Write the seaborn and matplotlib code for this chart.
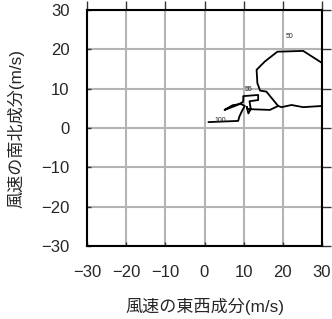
import matplotlib
matplotlib.use("Agg")
import matplotlib.pyplot as plt
import seaborn as sns
import pandas as pd

# hodograph path (east-west u, north-south v) in m/s
u = [1.0, 8.6, 8.9, 9.7, 10.3, 9.3, 7.2, 5.1, 7.8, 9.8, 9.9, 9.9, 13.7, 13.7,
     11.5, 11.8, 11.2, 10.8, 11.0, 12.5, 16.7, 18.8, 15.8, 14.2, 13.5, 13.3,
     15.4, 18.6, 25.2, 29.9, 33.0, 32.0, 30.0, 25.2, 22.2, 19.7, 18.8]
v = [1.5, 1.8, 2.9, 4.6, 5.6, 6.1, 5.8, 4.6, 5.6, 6.6, 7.1, 8.1, 8.4, 7.1,
     6.8, 4.8, 3.7, 5.4, 4.8, 4.75, 4.6, 5.6, 9.25, 9.5, 11.4, 14.8,
     16.9, 19.4, 19.6, 16.6, 12.0, 6.5, 5.6, 5.3, 5.85, 5.3, 5.6]
label_text = ["100", "55", "50"]
label_u = [4.0, 11.2, 21.6]
label_v = [2.0, 9.7, 23.2]
ticks = [-30, -20, -10, 0, 10, 20, 30]
tick_labels = ["\u221230", "\u221220", "\u221210", "0", "10", "20", "30"]

sns.set_style("white")
plt.rcParams['font.family'] = ['Liberation Sans', 'Noto Sans CJK JP', 'DejaVu Sans']

fig = plt.figure(figsize=(3.32, 3.19), dpi=100)
ax = fig.add_axes([87/332, 1 - 246/319, 235/332, 236/319])

df = pd.DataFrame({"u": u, "v": v})
sns.lineplot(data=df, x="u", y="v", sort=False, estimator=None, color="black",
             linewidth=1.3, ax=ax, zorder=3)
for t, x, y in zip(label_text, label_u, label_v):
    ax.text(x, y, t, fontsize=5, ha="center", va="center", zorder=4)

ax.set_xlim(-30, 30)
ax.set_ylim(-30, 30)
ax.set_xticks(ticks)
ax.set_yticks(ticks)
ax.set_xticks(ticks, minor=True)
ax.set_yticks(ticks, minor=True)
ax.xaxis.remove_overlapping_locs = False
ax.yaxis.remove_overlapping_locs = False
ax.set_xticklabels(tick_labels, fontsize=12)
ax.set_yticklabels(tick_labels, fontsize=12)
ax.grid(True, which="major", color="#b4b4b4", linewidth=1.5)
ax.set_axisbelow(True)
for s in ax.spines.values():
    s.set_color("black")
    s.set_linewidth(1.5)
ax.tick_params(axis="both", which="major", direction="out", length=6.5, width=1,
               color="#333333", top=True, right=True,
               labeltop=False, labelright=False)
ax.tick_params(axis="x", which="major", pad=7)
ax.tick_params(axis="y", which="major", pad=6)
ax.tick_params(axis="both", which="minor", direction="in", length=3, width=1,
               color="#333333", top=False, right=False, bottom=True, left=True)
ax.set_xlabel("風速の東西成分(m/s)", fontsize=12.3, labelpad=13)
ax.set_ylabel("風速の南北成分(m/s)", fontsize=12.3, labelpad=12)

fig.savefig("out.png", dpi=100)
